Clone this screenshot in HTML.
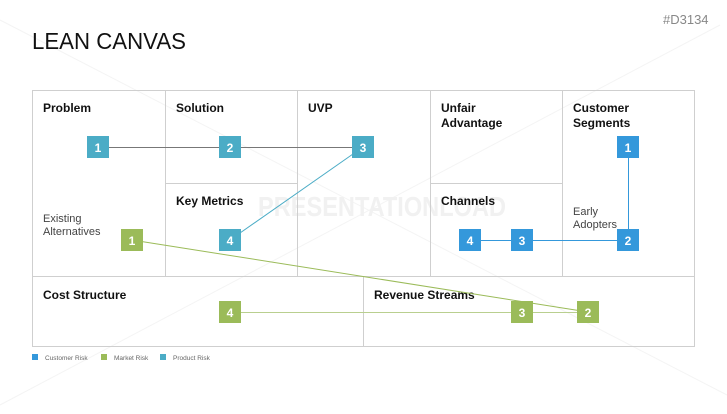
<!DOCTYPE html>
<html><head><style>
body{margin:0;width:727px;height:409px;background:#fff;overflow:hidden;font-family:"Liberation Sans",sans-serif;}
</style></head><body>
<svg width="727" height="409" xmlns="http://www.w3.org/2000/svg" font-family="Liberation Sans, sans-serif">
<g stroke="#f4f4f4" stroke-width="1">
<line x1="0" y1="20" x2="727" y2="395"/>
<line x1="0" y1="405" x2="720" y2="25"/>
</g>
<text x="258" y="216" font-size="28" font-weight="bold" fill="#f1f1f1" textLength="248" lengthAdjust="spacingAndGlyphs">PRESENTATIONLOAD</text>
<text x="663" y="24" font-size="13" fill="#888">#D3134</text>
<text x="32" y="49" font-size="23" fill="#111" textLength="154" lengthAdjust="spacingAndGlyphs">LEAN CANVAS</text>
<g stroke="#cfcfcf" stroke-width="1" fill="none">
<rect x="32.5" y="90.5" width="662" height="256"/>
<line x1="32" y1="276.5" x2="695" y2="276.5"/>
<line x1="165.5" y1="90" x2="165.5" y2="276"/>
<line x1="297.5" y1="90" x2="297.5" y2="276"/>
<line x1="430.5" y1="90" x2="430.5" y2="276"/>
<line x1="562.5" y1="90" x2="562.5" y2="276"/>
<line x1="165" y1="183.5" x2="297" y2="183.5"/>
<line x1="430" y1="183.5" x2="562" y2="183.5"/>
<line x1="363.5" y1="276" x2="363.5" y2="346"/>
</g>
<g font-size="12" font-weight="bold" fill="#111">
<text x="43" y="112">Problem</text>
<text x="176" y="112">Solution</text>
<text x="308" y="112">UVP</text>
<text x="441" y="112">Unfair</text><text x="441" y="127">Advantage</text>
<text x="573" y="112">Customer</text><text x="573" y="127">Segments</text>
<text x="176" y="205">Key Metrics</text>
<text x="441" y="205">Channels</text>
<text x="43" y="299">Cost Structure</text>
<text x="374" y="299">Revenue Streams</text>
</g>
<g font-size="11" fill="#444">
<text x="43" y="222">Existing</text><text x="43" y="235">Alternatives</text>
<text x="573" y="215">Early</text><text x="573" y="228">Adopters</text>
</g>
<g stroke-width="1">
<line x1="98" y1="147.5" x2="363" y2="147.5" stroke="#777"/>
<line x1="230" y1="240" x2="363" y2="147" stroke="#4BACC6"/>
<line x1="132" y1="240" x2="588" y2="312" stroke="#9BBB59"/>
<line x1="230" y1="312.5" x2="588" y2="312.5" stroke="#b9cf8f"/>
<line x1="628.5" y1="147" x2="628.5" y2="240" stroke="#3498DB"/>
<line x1="470" y1="240.5" x2="628" y2="240.5" stroke="#3498DB"/>
</g>
<g font-size="12" font-weight="bold" fill="#fff" text-anchor="middle">
<rect x="87" y="136" width="22" height="22" fill="#4BACC6"/><text x="98" y="152">1</text>
<rect x="219" y="136" width="22" height="22" fill="#4BACC6"/><text x="230" y="152">2</text>
<rect x="352" y="136" width="22" height="22" fill="#4BACC6"/><text x="363" y="152">3</text>
<rect x="219" y="229" width="22" height="22" fill="#4BACC6"/><text x="230" y="245">4</text>
<rect x="617" y="136" width="22" height="22" fill="#3498DB"/><text x="628" y="152">1</text>
<rect x="617" y="229" width="22" height="22" fill="#3498DB"/><text x="628" y="245">2</text>
<rect x="511" y="229" width="22" height="22" fill="#3498DB"/><text x="522" y="245">3</text>
<rect x="459" y="229" width="22" height="22" fill="#3498DB"/><text x="470" y="245">4</text>
<rect x="121" y="229" width="22" height="22" fill="#9BBB59"/><text x="132" y="245">1</text>
<rect x="577" y="301" width="22" height="22" fill="#9BBB59"/><text x="588" y="317">2</text>
<rect x="511" y="301" width="22" height="22" fill="#9BBB59"/><text x="522" y="317">3</text>
<rect x="219" y="301" width="22" height="22" fill="#9BBB59"/><text x="230" y="317">4</text>
</g>
<g font-size="6.5" fill="#666">
<rect x="32" y="354" width="6" height="6" fill="#3498DB"/><text x="45" y="360">Customer Risk</text>
<rect x="101" y="354" width="6" height="6" fill="#9BBB59"/><text x="114" y="360">Market Risk</text>
<rect x="160" y="354" width="6" height="6" fill="#4BACC6"/><text x="173" y="360">Product Risk</text>
</g>
</svg>
</body></html>
